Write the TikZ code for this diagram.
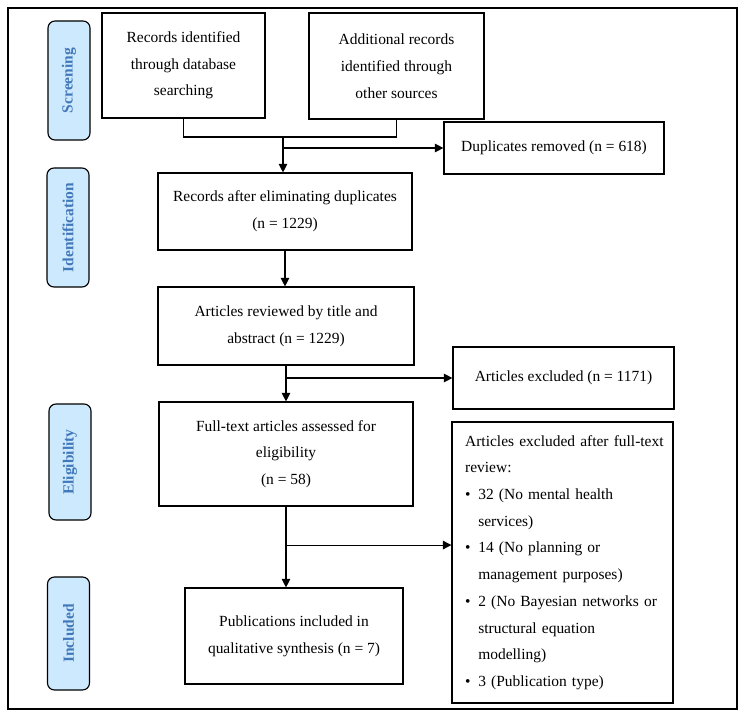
\documentclass[tikz,border=0pt]{standalone}
\usepackage{fontspec}
\setmainfont{Liberation Serif}
\usetikzlibrary{arrows.meta,positioning,calc}
\definecolor{phasefill}{RGB}{205,233,253}
\definecolor{phasetext}{RGB}{66,120,186}

\begin{document}
\begin{tikzpicture}[x=0.025cm, y=-0.025cm,
    box/.style={rectangle, draw, line width=0.8pt, align=center, inner sep=2pt, font=\fontsize{11}{19}\selectfont},
    phase/.style={rectangle, rounded corners=5pt, draw, line width=0.8pt, fill=phasefill, text=phasetext, rotate=90, minimum height=1.05cm, font=\bfseries\fontsize{11}{12}\selectfont},
    link/.style={line width=0.8pt},
    arr/.style={line width=0.8pt, -{Triangle[length=6pt,width=6pt]}}]

        \useasboundingbox (0,0) rectangle (744,716);
        \draw[line width=0.8pt] (8,8) rectangle (737,709);

        % phase labels on the left
        \node[phase, minimum width=2.975cm] (scr) at (69,80.5) {Screening};
        \node[phase, minimum width=2.975cm] (idf) at (68,227.5) {Identification};
        \node[phase, minimum width=2.9cm] (elg) at (70,462) {Eligibility};
        \node[phase, minimum width=2.825cm] (inc) at (68.5,633.5) {Included};

        % main flow
        \node[box, minimum width=4.075cm, minimum height=2.625cm] (db) at (183.5,65.5) {Records identified\\through database\\searching};
        \node[box, minimum width=4.375cm, minimum height=2.65cm] (extra) at (396.5,66) {Additional records\\identified through\\other sources};
        \node[box, minimum width=5.5cm, minimum height=1.3cm] (dups) at (554,148) {Duplicates removed (n = 618)};
        \node[box, minimum width=6.35cm, minimum height=1.925cm] (dedup) at (285,211.5) {Records after eliminating duplicates\\(n = 1229)};
        \node[box, minimum width=6.4cm, minimum height=1.95cm] (review) at (286,326) {Articles reviewed by title and\\abstract (n = 1229)};
        \node[box, minimum width=5.525cm, minimum height=1.55cm] (excl) at (563.5,378) {Articles excluded (n = 1171)};
        \node[box, minimum width=6.35cm, minimum height=2.6cm] (fulltext) at (286,454) {Full-text articles assessed for\\eligibility\\(n = 58)};
        \node[box, minimum width=5.45cm, minimum height=2.4cm] (incl) at (294,636) {Publications included in\\qualitative synthesis (n = 7)};
        \node[box, align=left, text width=4.865cm, inner xsep=0.33cm, minimum height=7.025cm] (exclft) at (562.5,562.5)
            {\mbox{Articles excluded after full-text}\\review:\\
             \textbullet\enspace 32 (No mental health\\\phantom{\textbullet\enspace}services)\\
             \textbullet\enspace 14 (No planning or\\\phantom{\textbullet\enspace}management purposes)\\
             \textbullet\enspace 2 (No Bayesian networks or\\\phantom{\textbullet\enspace}structural equation\\\phantom{\textbullet\enspace}modelling)\\
             \textbullet\enspace 3 (Publication type)};

        % connectors
        \coordinate (merge) at (283,137);
        \draw[link] (db.south) |- (extra.south |- merge) -- (extra.south);
        \draw[arr] (merge) -- (merge |- dedup.north);
        \draw[arr] (merge |- dups.west) -- (dups.west);
        \draw[arr] (dedup.south) -- (dedup.south |- review.north);
        \draw[arr] (review.south) -- (review.south |- fulltext.north);
        \draw[arr] (review.south |- excl.west) -- (excl.west);
        \draw[arr] (fulltext.south) -- (fulltext.south |- incl.north);
        \coordinate (split) at ($(fulltext.south)!0.476!(fulltext.south |- incl.north)$);
        \draw[arr] (split) -- (split -| exclft.west);
      \end{tikzpicture}
\end{document}
